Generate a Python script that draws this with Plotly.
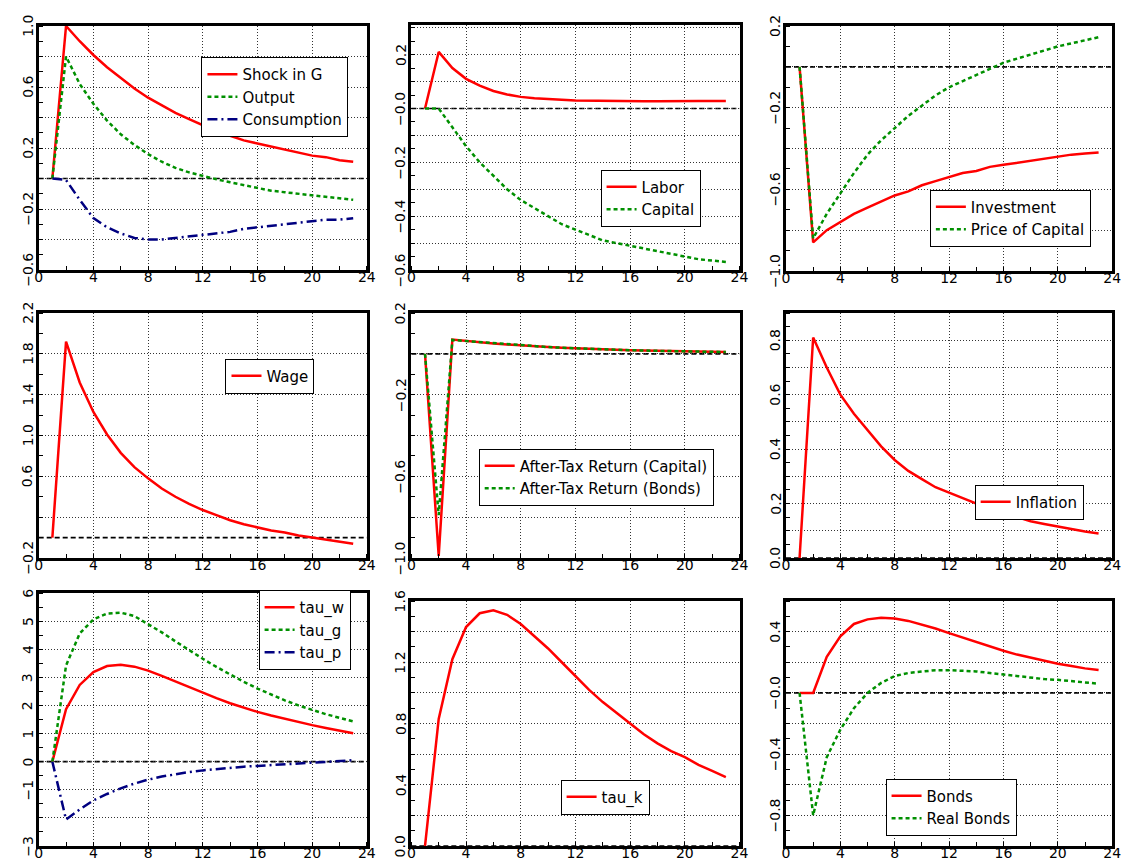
import plotly.graph_objects as go

# ---------------- data ----------------
periods = list(range(1, 24))

shock_g = [0, 1.0, 0.90, 0.81, 0.73, 0.66, 0.59, 0.53, 0.48, 0.43, 0.39, 0.35,
           0.31, 0.28, 0.25, 0.23, 0.21, 0.19, 0.17, 0.15, 0.14, 0.12, 0.11]
output = [0, 0.80, 0.62, 0.49, 0.38, 0.29, 0.22, 0.16, 0.11, 0.07, 0.04, 0.015,
          -0.005, -0.025, -0.045, -0.065, -0.08, -0.09, -0.10, -0.11, -0.12, -0.13, -0.14]
consumption = [0, -0.01, -0.14, -0.26, -0.32, -0.36, -0.39, -0.40, -0.40, -0.39, -0.38, -0.37,
               -0.36, -0.35, -0.33, -0.32, -0.31, -0.30, -0.29, -0.28, -0.27, -0.27, -0.26]

labor = [0, 0.21, 0.15, 0.11, 0.085, 0.065, 0.052, 0.043, 0.038, 0.034, 0.032, 0.030,
         0.029, 0.028, 0.028, 0.027, 0.027, 0.027, 0.028, 0.028, 0.028, 0.028, 0.028]
capital = [0, 0.0, -0.07, -0.14, -0.20, -0.25, -0.30, -0.34, -0.37, -0.40, -0.43, -0.45,
           -0.47, -0.49, -0.50, -0.51, -0.52, -0.53, -0.54, -0.55, -0.56, -0.565, -0.57]

investment = [0, -0.86, -0.80, -0.76, -0.72, -0.69, -0.66, -0.63, -0.61, -0.58, -0.56, -0.54,
              -0.52, -0.51, -0.49, -0.48, -0.47, -0.46, -0.45, -0.44, -0.43, -0.425, -0.42]
price_capital = [0, -0.84, -0.72, -0.62, -0.52, -0.43, -0.36, -0.30, -0.24, -0.19, -0.14, -0.10,
                 -0.07, -0.04, -0.01, 0.02, 0.04, 0.06, 0.08, 0.10, 0.115, 0.13, 0.145]

wage = [0, 1.92, 1.52, 1.23, 1.01, 0.83, 0.69, 0.58, 0.48, 0.40, 0.33, 0.27,
        0.22, 0.17, 0.13, 0.10, 0.07, 0.05, 0.02, 0.00, -0.02, -0.04, -0.06]

ret_capital = [0, -0.99, 0.07, 0.063, 0.057, 0.051, 0.046, 0.041, 0.037, 0.033, 0.030, 0.027,
               0.024, 0.022, 0.020, 0.018, 0.016, 0.014, 0.013, 0.012, 0.011, 0.010, 0.009]
ret_bonds = [0, -0.79, 0.068, 0.063, 0.057, 0.051, 0.046, 0.041, 0.037, 0.033, 0.030, 0.027,
             0.024, 0.022, 0.020, 0.018, 0.016, 0.014, 0.013, 0.012, 0.011, 0.010, 0.009]

inflation = [0, 0.81, 0.70, 0.60, 0.53, 0.47, 0.41, 0.36, 0.32, 0.29, 0.26, 0.24,
             0.22, 0.20, 0.18, 0.16, 0.15, 0.135, 0.125, 0.115, 0.105, 0.097, 0.09]

tau_w = [0, 1.87, 2.73, 3.19, 3.40, 3.45, 3.38, 3.24, 3.05, 2.85, 2.65, 2.45,
         2.26, 2.08, 1.92, 1.77, 1.64, 1.52, 1.41, 1.30, 1.20, 1.10, 1.01]
tau_g = [0, 3.42, 4.56, 5.06, 5.27, 5.30, 5.18, 4.90, 4.60, 4.28, 3.96, 3.66,
         3.37, 3.10, 2.84, 2.60, 2.38, 2.18, 2.00, 1.84, 1.69, 1.56, 1.43]
tau_p = [0, -2.06, -1.70, -1.38, -1.15, -0.95, -0.78, -0.64, -0.53, -0.44, -0.37, -0.31,
         -0.26, -0.22, -0.18, -0.15, -0.12, -0.09, -0.06, -0.04, -0.01, 0.02, 0.05]

tau_k = [0, 0.83, 1.22, 1.43, 1.52, 1.54, 1.51, 1.45, 1.37, 1.29, 1.20, 1.11,
         1.02, 0.94, 0.87, 0.80, 0.73, 0.67, 0.62, 0.58, 0.53, 0.49, 0.45]

bonds = [0, 0, 0.235, 0.37, 0.45, 0.48, 0.49, 0.485, 0.47, 0.445, 0.42, 0.39,
         0.36, 0.33, 0.30, 0.275, 0.25, 0.23, 0.21, 0.19, 0.175, 0.16, 0.15]
real_bonds = [0, -0.80, -0.42, -0.24, -0.10, 0.0, 0.065, 0.11, 0.13, 0.14, 0.148, 0.148,
              0.145, 0.14, 0.13, 0.12, 0.11, 0.10, 0.09, 0.085, 0.077, 0.07, 0.06]

x_ticks = [0, 4, 8, 12, 16, 20, 24]
M = "\u2212"
y_ticks = [
    [-0.6, -0.4, -0.2, 0.0, 0.2, 0.4, 0.6, 0.8, 1.0],
    [-0.6, -0.5, -0.4, -0.3, -0.2, -0.1, 0.0, 0.1, 0.2, 0.3],
    [-1.0, -0.8, -0.6, -0.4, -0.2, 0.0, 0.2],
    [-0.2, 0.2, 0.6, 1.0, 1.4, 1.8, 2.2],
    [-1.0, -0.8, -0.6, -0.4, -0.2, 0.0, 0.2],
    [0.0, 0.1, 0.2, 0.3, 0.4, 0.5, 0.6, 0.7, 0.8],
    [-3, -2, -1, 0, 1, 2, 3, 4, 5, 6],
    [0.0, 0.2, 0.4, 0.6, 0.8, 1.0, 1.2, 1.4, 1.6],
    [-1.0, -0.8, -0.6, -0.4, -0.2, 0.0, 0.2, 0.4, 0.6],
]
y_labels = [
    [M + "0.6", "", M + "0.2", "", "0.2", "", "0.6", "", "1.0"],
    [M + "0.6", "", M + "0.4", "", M + "0.2", "", M + "0.0", "", "0.2", ""],
    [M + "1.0", "", M + "0.6", "", M + "0.2", "", "0.2"],
    [M + "0.2", "", "0.6", "1.0", "1.4", "1.8", "2.2"],
    [M + "1.0", "", M + "0.6", "", M + "0.2", "", "0.2"],
    ["0.0", "", "0.2", "", "0.4", "", "0.6", "", "0.8"],
    [M + "3", "", M + "1", "0", "1", "2", "3", "4", "5", "6"],
    ["0.0", "", "0.4", "", "0.8", "", "1.2", "", "1.6"],
    ["", M + "0.8", "", M + "0.4", "", M + "0.0", "", "0.4", ""],
]

# ---------------- layout / styles ----------------
W, H = 1129, 859
RED, GREEN, NAVY = "#ff0000", "#009000", "#000080"
FONT = "DejaVu Sans"

panel_px = [  # left, right, top, bottom (pixels)
    (27, 359, 18, 262), (404, 736, 17, 262), (783, 1113, 18, 263),
    (27, 359, 305, 550), (404, 736, 305, 550), (783, 1113, 305, 550),
    (27, 359, 585, 838), (404, 736, 593, 838), (783, 1113, 593, 838),
]
y_ranges = [[-0.6, 1.0], [-0.6, 0.31], [-1.0, 0.2], [-0.2, 2.2], [-1.0, 0.2],
            [0.0, 0.9], [-3, 6], [0.0, 1.6], [-1.0, 0.6]]
y_minor = [0.1, 0.05, 0.1, 0.2, 0.1, 0.05, 0.5, 0.1, 0.1]
legend_center_px = [(266, 89), (646, 190), (1010, 210), (261, 368), (591, 469),
                    (1029, 494), (296, 622), (600, 789), (950, 799)]

styles = {
    "solid": dict(color=RED, width=2.5),
    "dot": dict(color=GREEN, width=2.5, dash="4px,3px"),
    "dashdot": dict(color=NAVY, width=2.5, dash="10px,4px,2px,4px"),
}

panels = [
    [("Shock in G", shock_g, "solid"), ("Output", output, "dot"), ("Consumption", consumption, "dashdot")],
    [("Labor", labor, "solid"), ("Capital", capital, "dot")],
    [("Investment", investment, "solid"), ("Price of Capital", price_capital, "dot")],
    [("Wage", wage, "solid")],
    [("After-Tax Return (Capital)", ret_capital, "solid"), ("After-Tax Return (Bonds)", ret_bonds, "dot")],
    [("Inflation", inflation, "solid")],
    [("tau_w", tau_w, "solid"), ("tau_g", tau_g, "dot"), ("tau_p", tau_p, "dashdot")],
    [("tau_k", tau_k, "solid")],
    [("Bonds", bonds, "solid"), ("Real Bonds", real_bonds, "dot")],
]

fig = go.Figure()
layout = dict(width=W, height=H, margin=dict(l=0, r=0, t=0, b=0),
              paper_bgcolor="white", plot_bgcolor="white",
              font=dict(family=FONT, size=14, color="black"))
annotations = []

for i, series in enumerate(panels):
    k = i + 1
    sfx = "" if k == 1 else str(k)
    leg = "legend" if k == 1 else f"legend{k}"
    for name, vals, st in series:
        fig.add_trace(go.Scatter(x=periods, y=vals, mode="lines", name=name,
                                 line=styles[st], xaxis=f"x{sfx}", yaxis=f"y{sfx}",
                                 legend=leg))
    l, r, t, b = panel_px[i]
    common = dict(showline=True, linewidth=3, linecolor="black", mirror=True,
                  showgrid=True, gridcolor="#333333", griddash="1px,2px", gridwidth=1,
                  zeroline=False, ticks="")
    layout[f"xaxis{sfx}"] = dict(
        domain=[l / W, r / W], anchor=f"y{sfx}", range=[0, 24],
        tickmode="array", tickvals=x_ticks, ticktext=[str(v) for v in x_ticks],
        tickfont=dict(size=14, color="black"), ticklabelstandoff=-8,
        minor=dict(tick0=0, dtick=2, ticks="inside", ticklen=4, tickcolor="black",
                   tickwidth=1, showgrid=False),
        **common)
    layout[f"yaxis{sfx}"] = dict(
        domain=[1 - b / H, 1 - t / H], anchor=f"x{sfx}", range=y_ranges[i],
        tickmode="array", tickvals=y_ticks[i], showticklabels=False,
        minor=dict(tick0=0, dtick=y_minor[i], ticks="inside", ticklen=4,
                   tickcolor="black", tickwidth=1, showgrid=False),
        **common)
    # rotated y tick labels, centred on their ticks
    for v, txt in zip(y_ticks[i], y_labels[i]):
        if txt:
            annotations.append(dict(
                x=(l - 11) / W, xref="paper", y=v, yref=f"y{sfx}",
                text=txt, textangle=-90, showarrow=False,
                xanchor="center", yanchor="middle",
                font=dict(family=FONT, size=14, color="black")))
    cx, cy = legend_center_px[i]
    layout[leg] = dict(x=cx / W, y=1 - cy / H, xanchor="center", yanchor="middle",
                       xref="paper", yref="paper",
                       bgcolor="white", bordercolor="black", borderwidth=1,
                       font=dict(family=FONT, size=15, color="black"),
                       itemwidth=30, tracegroupgap=0)
    fig.add_shape(type="line", xref=f"x{sfx} domain", x0=0, x1=1,
                  yref=f"y{sfx}", y0=0, y1=0, layer="below",
                  line=dict(color="black", width=1.6, dash="5px,3px"))

layout["annotations"] = annotations
fig.update_layout(**layout)
fig.write_html("out.html")
